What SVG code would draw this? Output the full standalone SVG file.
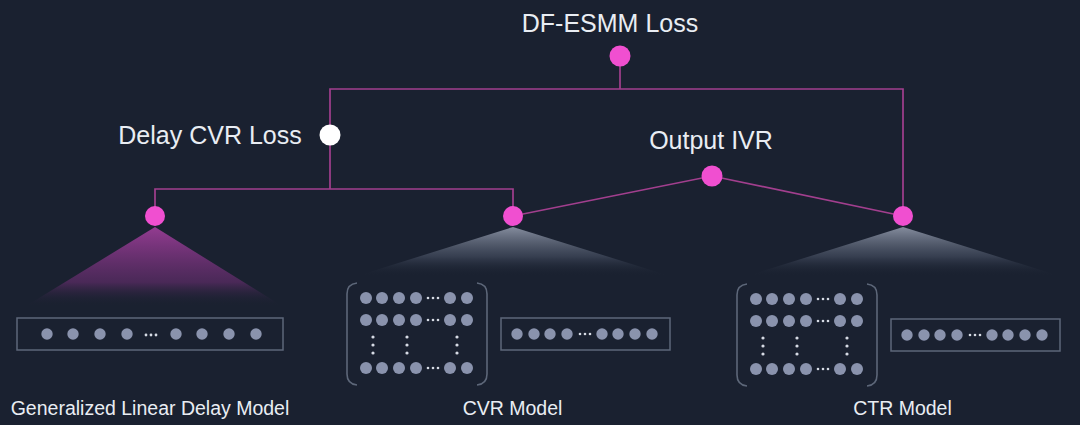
<svg xmlns="http://www.w3.org/2000/svg" width="1080" height="425" viewBox="0 0 1080 425">
<defs>
<linearGradient id="gPurple" x1="0" y1="0" x2="0" y2="1">
<stop offset="0" stop-color="#9a3d96" stop-opacity="0.95"/>
<stop offset="0.7" stop-color="#6a2e72" stop-opacity="0.6"/>
<stop offset="1" stop-color="#1a2130" stop-opacity="0"/>
</linearGradient>
<linearGradient id="gGrey" x1="0" y1="0" x2="0" y2="1">
<stop offset="0" stop-color="#8b93a4" stop-opacity="0.95"/>
<stop offset="0.6" stop-color="#4a5366" stop-opacity="0.6"/>
<stop offset="1" stop-color="#1a2130" stop-opacity="0"/>
</linearGradient>
<g id="matrix">
<path d="M357,283 Q347,284 347,294 L347,374 Q347,384 357,385" class="brk"/>
<path d="M477,283 Q487,284 487,294 L487,374 Q487,384 477,385" class="brk"/>
<g class="dot">
<circle cx="366" cy="298" r="6"/><circle cx="382" cy="298" r="6"/><circle cx="399" cy="298" r="6"/><circle cx="416" cy="298" r="6"/><circle cx="450" cy="298" r="6"/><circle cx="467" cy="298" r="6"/>
<circle cx="366" cy="320" r="6"/><circle cx="382" cy="320" r="6"/><circle cx="399" cy="320" r="6"/><circle cx="416" cy="320" r="6"/><circle cx="450" cy="320" r="6"/><circle cx="467" cy="320" r="6"/>
<circle cx="366" cy="368" r="6"/><circle cx="382" cy="368" r="6"/><circle cx="399" cy="368" r="6"/><circle cx="416" cy="368" r="6"/><circle cx="450" cy="368" r="6"/><circle cx="467" cy="368" r="6"/>
</g>
<g class="edot">
<circle cx="428" cy="298" r="1.3"/><circle cx="433" cy="298" r="1.3"/><circle cx="438" cy="298" r="1.3"/>
<circle cx="428" cy="320" r="1.3"/><circle cx="433" cy="320" r="1.3"/><circle cx="438" cy="320" r="1.3"/>
<circle cx="428" cy="368" r="1.3"/><circle cx="433" cy="368" r="1.3"/><circle cx="438" cy="368" r="1.3"/>
<circle cx="373" cy="337" r="1.6"/><circle cx="373" cy="345" r="1.6"/><circle cx="373" cy="353" r="1.6"/>
<circle cx="407" cy="337" r="1.6"/><circle cx="407" cy="345" r="1.6"/><circle cx="407" cy="353" r="1.6"/>
<circle cx="457" cy="337" r="1.6"/><circle cx="457" cy="345" r="1.6"/><circle cx="457" cy="353" r="1.6"/>
</g>
<rect x="501" y="318" width="169" height="32" class="box"/>
<g class="dot">
<circle cx="517" cy="334" r="5.7"/><circle cx="534" cy="334" r="5.7"/><circle cx="550" cy="334" r="5.7"/><circle cx="567" cy="334" r="5.7"/>
<circle cx="602" cy="334" r="5.7"/><circle cx="618" cy="334" r="5.7"/><circle cx="635" cy="334" r="5.7"/><circle cx="652" cy="334" r="5.7"/>
</g>
<g class="edot"><circle cx="580" cy="334" r="1.3"/><circle cx="585" cy="334" r="1.3"/><circle cx="590" cy="334" r="1.3"/></g>
</g>
</defs>
<style>
.lbl{font-family:"Liberation Sans",Arial,sans-serif;fill:#e9edf3;text-anchor:middle}
.big{font-size:25px}
.sm{font-size:19.5px}
.conn{fill:none;stroke:#a23f8e;stroke-width:1.7}
.pink{fill:#f04fd0}
.dot circle{fill:#8a93ad}
.edot circle{fill:#d6dbe4}
.box{fill:none;stroke:#5d6779;stroke-width:1.5}
.brk{fill:none;stroke:#5d6779;stroke-width:1.6}
</style>
<rect x="0" y="0" width="1080" height="425" fill="#1a2130"/>

<g id="fans">
<polygon points="155,227 26,306 282,306" fill="url(#gPurple)"/>
<polygon points="513,227 357,276 670,276" fill="url(#gGrey)"/>
<polygon points="903,227 747,276 1060,276" fill="url(#gGrey)"/>
</g>

<g id="connectors">
<polyline class="conn" points="620,56 620,89"/>
<polyline class="conn" points="330,189 330,89 903,89 903,216"/>
<polyline class="conn" points="155,216 155,189 513,189 513,216"/>
<polyline class="conn" points="513,216 712,176 903,216"/>
</g>

<g id="df-esmm-loss">
<circle cx="620" cy="56" r="10.5" class="pink"/>
<text x="610" y="32" class="lbl big">DF-ESMM Loss</text>
</g>

<g id="delay-cvr-loss">
<circle cx="330" cy="135" r="10.5" fill="#ffffff"/>
<text x="210" y="144" class="lbl big">Delay CVR Loss</text>
</g>

<g id="output-ivr">
<circle cx="712" cy="176" r="10.5" class="pink"/>
<text x="711" y="149" class="lbl big">Output IVR</text>
</g>

<g id="delay-model">
<circle cx="155" cy="216" r="10" class="pink"/>
<rect x="17" y="318" width="266" height="32" class="box"/>
<g class="dot">
<circle cx="47" cy="334" r="5.7"/><circle cx="73" cy="334" r="5.7"/><circle cx="100" cy="334" r="5.7"/><circle cx="127" cy="334" r="5.7"/>
<circle cx="176" cy="334" r="5.7"/><circle cx="202" cy="334" r="5.7"/><circle cx="229" cy="334" r="5.7"/><circle cx="256" cy="334" r="5.7"/>
</g>
<g class="edot"><circle cx="146" cy="335" r="1.4"/><circle cx="151" cy="335" r="1.4"/><circle cx="156" cy="335" r="1.4"/></g>
<text x="150" y="415" class="lbl sm">Generalized Linear Delay Model</text>
</g>

<g id="cvr-model">
<circle cx="513" cy="216" r="10" class="pink"/>
<use href="#matrix"/>
<text x="512.5" y="415" class="lbl sm">CVR Model</text>
</g>

<g id="ctr-model">
<circle cx="903" cy="216" r="10" class="pink"/>
<use href="#matrix" transform="translate(390,1)"/>
<text x="902.5" y="415" class="lbl sm">CTR Model</text>
</g>
</svg>
